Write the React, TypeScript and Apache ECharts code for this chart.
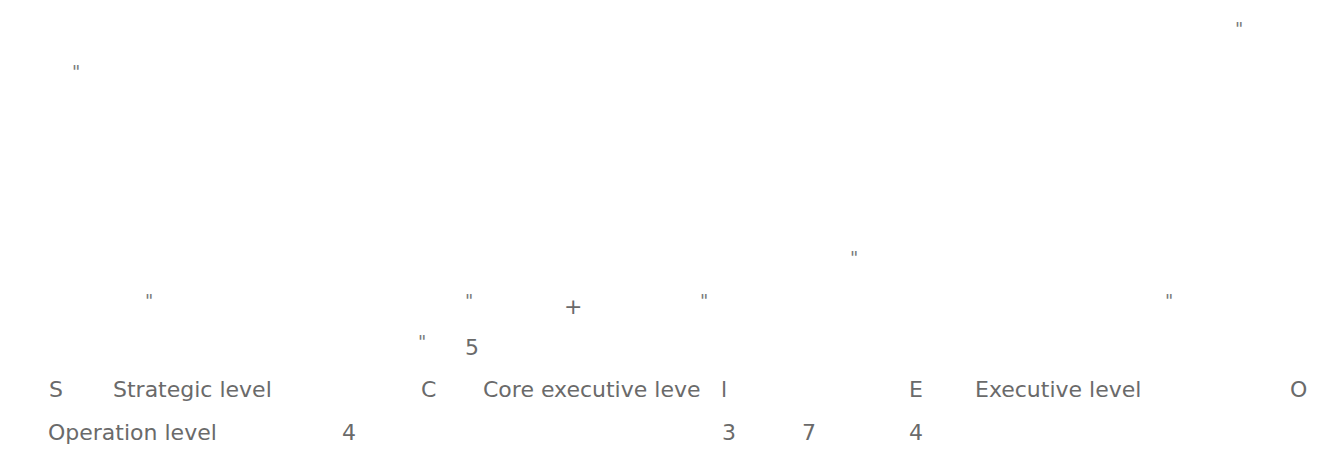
import React, { useEffect, useRef } from "react";
import * as echarts from "echarts";

// Text fragments that survive on the page, row by row
const rowTopA = ["\u201d"];
const rowTopB = ["\u201d"];
const rowC = ["\u201d"];
const rowD = ["\u201d", "\u201d", "+", "\u201d", "\u201d"];
const rowE = ["\u201d", "5"];
const rowF = ["S", "Strategic level", "C", "Core executive leve", "l", "E", "Executive level", "O"];
const rowG = ["Operation level", "4", "3", "7", "4"];

// layout (left x of each fragment) and row centres
const xA = [1235];
const xB = [72];
const xC = [850];
const xD = [145, 465, 564, 700, 1165];
const xE = [418, 465];
const xF = [49, 113, 421, 483, 721, 909, 975, 1290];
const xG = [48, 342, 722, 802, 909];
const rowY = { A: 34, B: 77, C: 263, D: 306, E: 347, F: 389, G: 432 };

const FONT = "'DejaVu Sans', sans-serif";
const COLOR = "#6a6a6a";

function build(texts: string[], xs: number[], y: number) {
  return texts.map((t, i) => {
    const isQuote = t === "\u201d";
    return {
      type: "text",
      x: xs[i],
      y: isQuote ? y - 6 : y,
      style: {
        text: isQuote ? '"' : t,
        fill: isQuote ? "#7a7a7a" : COLOR,
        fontSize: isQuote ? 18 : 22,
        fontStyle: isQuote ? "italic" : "normal",
        fontFamily: FONT,
        align: "left",
        verticalAlign: "middle",
      },
    };
  });
}

export default function App() {
  const ref = useRef<HTMLDivElement>(null);
  useEffect(() => {
    document.body.style.margin = "0";
    const chart = echarts.init(ref.current!, undefined, { renderer: "svg" });
    chart.setOption({
      animation: false,
      backgroundColor: "#ffffff",
      graphic: [
        ...build(rowTopA, xA, rowY.A),
        ...build(rowTopB, xB, rowY.B),
        ...build(rowC, xC, rowY.C),
        ...build(rowD, xD, rowY.D),
        ...build(rowE, xE, rowY.E),
        ...build(rowF, xF, rowY.F),
        ...build(rowG, xG, rowY.G),
      ],
    });
    return () => chart.dispose();
  }, []);
  return <div ref={ref} style={{ width: 1335, height: 454 }} />;
}
